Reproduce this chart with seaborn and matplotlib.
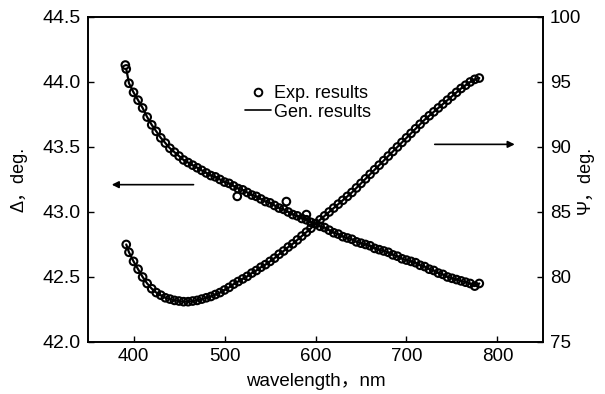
import matplotlib
matplotlib.use("Agg")
import matplotlib.pyplot as plt
import seaborn as sns
import pandas as pd
from matplotlib.lines import Line2D

wavelength = [392, 395, 400, 405, 410, 415, 420, 425, 430, 435, 440, 445, 450, 455, 460,
              465, 470, 475, 480, 485, 490, 495, 500, 505, 510, 515, 520, 525, 530, 535,
              540, 545, 550, 555, 560, 565, 570, 575, 580, 585, 590, 595, 600, 605, 610,
              615, 620, 625, 630, 635, 640, 645, 650, 655, 660, 665, 670, 675, 680, 685,
              690, 695, 700, 705, 710, 715, 720, 725, 730, 735, 740, 745, 750, 755, 760,
              765, 770, 775, 780]

delta = [44.10, 43.99, 43.92, 43.86, 43.80, 43.73, 43.67, 43.62, 43.57, 43.53, 43.49, 43.46,
         43.43, 43.40, 43.38, 43.36, 43.34, 43.32, 43.30, 43.28, 43.27, 43.25, 43.23, 43.22,
         43.20, 43.18, 43.17, 43.15, 43.13, 43.12, 43.10, 43.08, 43.07, 43.05, 43.03, 43.02,
         43.00, 42.98, 42.97, 42.95, 42.94, 42.92, 42.91, 42.89, 42.88, 42.86, 42.84, 42.83,
         42.81, 42.80, 42.79, 42.77, 42.76, 42.75, 42.74, 42.72, 42.71, 42.70, 42.69, 42.67,
         42.66, 42.64, 42.63, 42.62, 42.61, 42.59, 42.58, 42.56, 42.55, 42.53, 42.52, 42.50,
         42.49, 42.48, 42.47, 42.46, 42.45, 42.43, 42.45]

psi = [82.5, 81.9, 81.2, 80.6, 80.0, 79.5, 79.1, 78.8, 78.6, 78.4, 78.3, 78.2, 78.15, 78.1,
       78.1, 78.15, 78.2, 78.3, 78.4, 78.5, 78.65, 78.8, 79.0, 79.2, 79.45, 79.65, 79.85,
       80.05, 80.3, 80.5, 80.75, 80.95, 81.2, 81.45, 81.75, 82.0, 82.3, 82.55, 82.85, 83.15,
       83.45, 83.75, 84.1, 84.4, 84.7, 85.0, 85.3, 85.6, 85.9, 86.2, 86.5, 86.85, 87.2, 87.55,
       87.9, 88.25, 88.6, 88.95, 89.3, 89.65, 90.0, 90.35, 90.7, 91.05, 91.4, 91.75, 92.1,
       92.4, 92.7, 93.0, 93.3, 93.6, 93.9, 94.2, 94.5, 94.75, 95.0, 95.2, 95.3]

delta_extra_x = [391, 514, 568, 590]
delta_extra_y = [44.13, 43.12, 43.08, 42.98]

x_ticks = [400, 500, 600, 700, 800]
left_ticks = [42.0, 42.5, 43.0, 43.5, 44.0, 44.5]
right_ticks = [75, 80, 85, 90, 95, 100]

sns.set_theme(style="white")
plt.rcParams['font.family'] = ['Liberation Sans', 'Noto Sans CJK SC', 'DejaVu Sans']
plt.rcParams['text.color'] = 'black'
plt.rcParams['axes.labelcolor'] = 'black'
plt.rcParams['xtick.color'] = 'black'
plt.rcParams['ytick.color'] = 'black'

df = pd.DataFrame({"wavelength": wavelength, "delta": delta, "psi": psi})
dfx = pd.DataFrame({"wavelength": delta_extra_x, "delta": delta_extra_y})

fig = plt.figure(figsize=(6.05, 3.94), dpi=100)
ax = fig.add_axes([0.1455, 0.132, 0.752, 0.825])
ax2 = ax.twinx()

mk = dict(marker='o', s=30, facecolor='none', edgecolor='black', linewidth=1.5)
sns.lineplot(data=df, x="wavelength", y="delta", ax=ax, color='black', lw=1.6)
sns.scatterplot(data=df, x="wavelength", y="delta", ax=ax, **mk)
sns.scatterplot(data=dfx, x="wavelength", y="delta", ax=ax, **mk)
sns.lineplot(data=df, x="wavelength", y="psi", ax=ax2, color='black', lw=1.6)
sns.scatterplot(data=df, x="wavelength", y="psi", ax=ax2, **mk)

ax.set_xlim(350, 850)
ax.set_ylim(42.0, 44.5)
ax2.set_ylim(75, 100)
ax.set_xticks(x_ticks)
ax.set_xticklabels([str(v) for v in x_ticks])
ax.set_yticks(left_ticks)
ax.set_yticklabels([f"{v:.1f}" for v in left_ticks])
ax2.set_yticks(right_ticks)
ax2.set_yticklabels([str(v) for v in right_ticks])

for a in (ax, ax2):
    for s in a.spines.values():
        s.set_color('black')
        s.set_linewidth(1.2)
ax.tick_params(axis='x', direction='in', length=4, width=1, colors='black',
               labelsize=13.5, pad=4, bottom=True)
ax.tick_params(axis='y', direction='in', length=4, width=1, colors='black',
               labelsize=14, pad=5, left=True)
ax2.tick_params(axis='y', direction='in', length=4, width=1, colors='black',
                labelsize=13.5, pad=5, right=True)

ax.set_xlabel("wavelength，nm", fontsize=13.5, labelpad=6, color='black')
ax.set_ylabel("Δ，deg.", fontsize=13, labelpad=11, color='black')
ax2.set_ylabel("Ψ，deg.", fontsize=13, labelpad=-3, color='black')

# direction arrows
ax.annotate("", xy=(373, 43.21), xytext=(469, 43.21),
            arrowprops=dict(arrowstyle='-|>', color='black', lw=1.2, mutation_scale=10))
ax2.annotate("", xy=(822, 90.2), xytext=(728, 90.2),
             arrowprops=dict(arrowstyle='-|>', color='black', lw=1.2, mutation_scale=10))

handles = [Line2D([], [], marker='o', ls='none', mfc='none', mec='black', mew=1.4, ms=5.5),
           Line2D([], [], color='black', lw=1.2)]
leg = ax.legend(handles, ["Exp. results", "Gen. results"], loc='upper left',
                bbox_to_anchor=(0.318, 0.83), frameon=False, fontsize=13,
                handlelength=1.4, handletextpad=0.2, labelspacing=0.1, borderpad=0.2)
for t in leg.get_texts():
    t.set_color('black')

fig.savefig("out.png", dpi=100)
